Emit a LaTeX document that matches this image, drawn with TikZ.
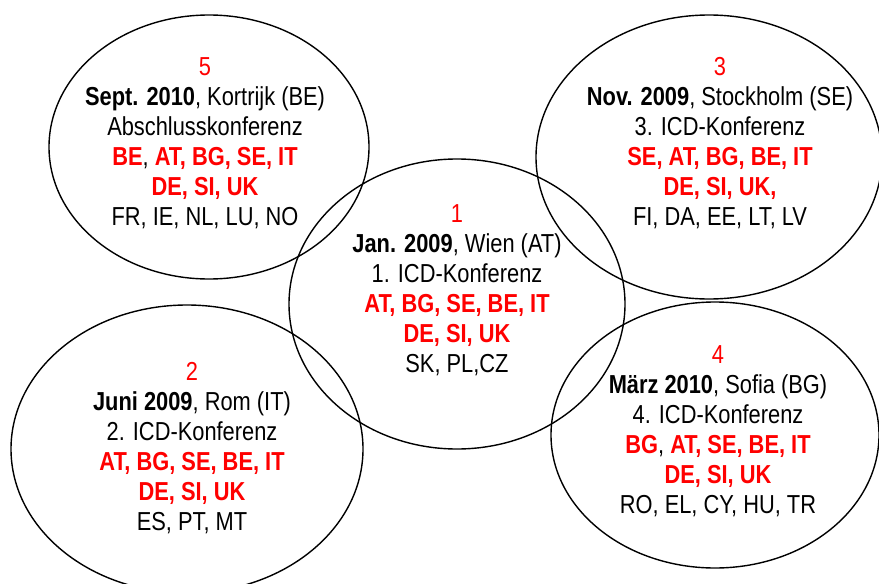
\documentclass[tikz,border=0pt]{standalone}
\usepackage{fontspec}
\setmainfont{Liberation Sans}[FakeStretch=0.84]
\usetikzlibrary{shapes.geometric}
\definecolor{hired}{RGB}{255,0,0}
\tikzset{
  ring/.style={draw=black, line width=1.4pt, ellipse, inner sep=0pt},
  info/.style={align=center, font=\fontsize{26}{30}\selectfont, inner sep=0pt}
}
\newcommand{\rd}[1]{\textcolor{hired}{\textbf{#1}}}
\newcommand{\rn}[1]{\textcolor{hired}{#1}}
\begin{document}
\begin{tikzpicture}[x=1pt,y=-1pt]
\useasboundingbox (0,0) rectangle (879,584);
\clip (0,0) rectangle (879,584);
\fill[white] (0,0) rectangle (879,584);
% ellipses
\node[ring, minimum width=320, minimum height=264] (e5) at (209,147) {};
\node[ring, minimum width=346, minimum height=284] (e3) at (709,157) {};
\node[ring, minimum width=336, minimum height=290] (e1) at (457,304) {};
\node[ring, minimum width=352, minimum height=288] (e2) at (187,449) {};
\node[ring, minimum width=328, minimum height=266] (e4) at (715,435) {};
% texts
\node[info] (t5) at (205,143) {\rn{5}\\\textbf{Sept. 2010}, Kortrijk (BE)\\Abschlusskonferenz\\\rd{BE}, \rd{AT, BG, SE, IT}\\\rd{DE, SI, UK}\\FR, IE, NL, LU, NO};
\node[info] (t3) at (720,143) {\rn{3}\\\textbf{Nov. 2009}, Stockholm (SE)\\3. ICD-Konferenz\\\rd{SE, AT, BG, BE, IT}\\\rd{DE, SI, UK,}\\FI, DA, EE, LT, LV};
\node[info] (t1) at (457,290) {\rn{1}\\\textbf{Jan. 2009}, Wien (AT)\\1. ICD-Konferenz\\\rd{AT, BG, SE, BE, IT}\\\rd{DE, SI, UK}\\SK, PL,CZ};
\node[info] (t2) at (192,448) {\rn{2}\\\textbf{Juni 2009}, Rom (IT)\\2. ICD-Konferenz\\\rd{AT, BG, SE, BE, IT}\\\rd{DE, SI, UK}\\ES, PT, MT};
\node[info] (t4) at (718,431) {\rn{4}\\\textbf{März 2010}, Sofia (BG)\\4. ICD-Konferenz\\\rd{BG}, \rd{AT, SE, BE, IT}\\\rd{DE, SI, UK}\\RO, EL, CY, HU, TR};
\end{tikzpicture}
\end{document}
